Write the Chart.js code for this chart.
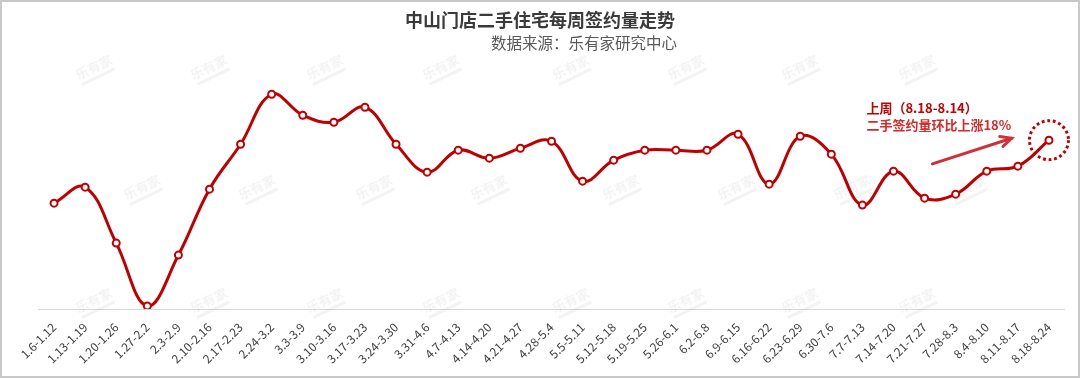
<!DOCTYPE html>
<html>
<head>
<meta charset="utf-8">
<script src="https://cdn.jsdelivr.net/npm/chart.js@4/dist/chart.umd.min.js"></script>
<style>
html,body{margin:0;padding:0;background:#fff;}
#wrap{width:1080px;height:379px;position:relative;}
</style>
</head>
<body>
<div id="wrap"><canvas id="c" width="1080" height="379"></canvas></div>
<script>
// ---- data ----
const weeks = ["1.6-1.12","1.13-1.19","1.20-1.26","1.27-2.2","2.3-2.9","2.10-2.16","2.17-2.23","2.24-3.2","3.3-3.9","3.10-3.16","3.17-3.23","3.24-3.30","3.31-4.6","4.7-4.13","4.14-4.20","4.21-4.27","4.28-5.4","5.5-5.11","5.12-5.18","5.19-5.25","5.26-6.1","6.2-6.8","6.9-6.15","6.16-6.22","6.23-6.29","6.30-7.6","7.7-7.13","7.14-7.20","7.21-7.27","7.28-8.3","8.4-8.10","8.11-8.17","8.18-8.24"];
const signings = [106,122,66,3,54,120,165,215,194,187,202,165,137,159,151,161,168,128,149,159,159,159,175,125,173,155,104,138,111,115,138,143,169];
const titleText = "中山门店二手住宅每周签约量走势";
const sourceText = "数据来源：乐有家研究中心";
const noteLine1 = "上周（8.18-8.14）";
const noteLine2 = "二手签约量环比上涨18%";
const yRange = [0, 250];

const RED = "#c00000";
const FONT = "'Noto Sans CJK SC','Microsoft YaHei',sans-serif";

const decor = {
  id: 'decor',
  beforeDatasetsDraw(chart) {
    const ctx = chart.ctx;
    const rows = [
      {y: 70, xs: [95,210,326,442,572,687,801,918]},
      {y: 190, xs: [143,258,375,490,622,737,853,968]},
      {y: 303, xs: [95,210,326,442,572,687,801,918]}
    ];
    ctx.save();
    rows.forEach(r => r.xs.forEach(x => {
      ctx.save();
      ctx.translate(x, r.y);
      ctx.rotate(-0.45);
      ctx.fillStyle = 'rgba(150,150,150,0.11)';
      ctx.font = "bold 13px " + FONT;
      ctx.textAlign = 'center';
      ctx.textBaseline = 'middle';
      ctx.fillText("乐有家", 0, -3);
      ctx.fillRect(-18, 6, 36, 3);
      ctx.restore();
    }));
    ctx.restore();
  },
  afterDraw(chart) {
    const ctx = chart.ctx;
    const xs = chart.scales.x, ys = chart.scales.y;
    const px = i => xs.getPixelForValue(i);
    const py = v => ys.getPixelForValue(v);
    ctx.save();
    ctx.fillStyle = '#3a3a3a';
    ctx.font = "bold 18px " + FONT;
    ctx.textAlign = 'center';
    ctx.textBaseline = 'middle';
    ctx.fillText(titleText, 540, 20);
    ctx.fillStyle = '#595959';
    ctx.font = "15.5px " + FONT;
    ctx.textAlign = 'right';
    ctx.fillText(sourceText, 677, 43);
    ctx.textAlign = 'left';
    ctx.font = "bold 13px " + FONT;
    ctx.fillStyle = RED;
    ctx.fillText(noteLine1, px(26.13), py(201.6));
    ctx.fillStyle = '#d42a2a';
    ctx.fillText(noteLine2, px(26.13), py(184.3));
    const x1 = px(28.25), y1 = py(145.3), x2 = px(30.8), y2 = py(171);
    ctx.strokeStyle = '#d0303a';
    ctx.lineWidth = 3;
    ctx.lineCap = 'round';
    ctx.beginPath(); ctx.moveTo(x1, y1); ctx.lineTo(x2, y2); ctx.stroke();
    const ang = Math.atan2(y2 - y1, x2 - x1);
    ctx.beginPath();
    ctx.moveTo(x2 - 12*Math.cos(ang - 0.45), y2 - 12*Math.sin(ang - 0.45));
    ctx.lineTo(x2, y2);
    ctx.lineTo(x2 - 12*Math.cos(ang + 0.45), y2 - 12*Math.sin(ang + 0.45));
    ctx.stroke();
    const last = signings.length - 1;
    ctx.strokeStyle = RED;
    ctx.lineWidth = 3;
    ctx.lineCap = 'butt';
    ctx.setLineDash([2.8, 2.8]);
    ctx.beginPath();
    ctx.arc(px(last), py(signings[last]), 19.5, 0, Math.PI*2);
    ctx.stroke();
    ctx.setLineDash([]);
    ctx.strokeStyle = '#c8c8c8';
    ctx.lineWidth = 2;
    ctx.strokeRect(1, 1, 1078, 376);
    ctx.restore();
  }
};

new Chart(document.getElementById('c'), {
  type: 'line',
  data: {
    labels: weeks,
    datasets: [{
      data: signings,
      borderColor: RED,
      borderWidth: 3,
      tension: 0.4,
      pointRadius: 3.5,
      pointBorderWidth: 2,
      pointBackgroundColor: '#fff',
      pointBorderColor: RED,
      fill: false
    }]
  },
  options: {
    responsive: false,
    animation: false,
    devicePixelRatio: 1,
    layout: {padding: {left: 38.5, right: 15.5, top: 59.3, bottom: 0}},
    plugins: {legend: {display: false}, tooltip: {enabled: false}, title: {display: false}},
    scales: {
      x: {
        offset: true,
        grid: {display: false, drawTicks: false},
        border: {display: true, color: '#d9d9d9', width: 1},
        ticks: {
          minRotation: 45, maxRotation: 45, autoSkip: false,
          padding: 11,
          color: '#404040',
          font: {size: 12, family: FONT}
        },
        afterFit: s => { s.height = 70; }
      },
      y: {
        display: false,
        min: yRange[0], max: yRange[1]
      }
    }
  },
  plugins: [decor]
});
</script>
</body>
</html>
